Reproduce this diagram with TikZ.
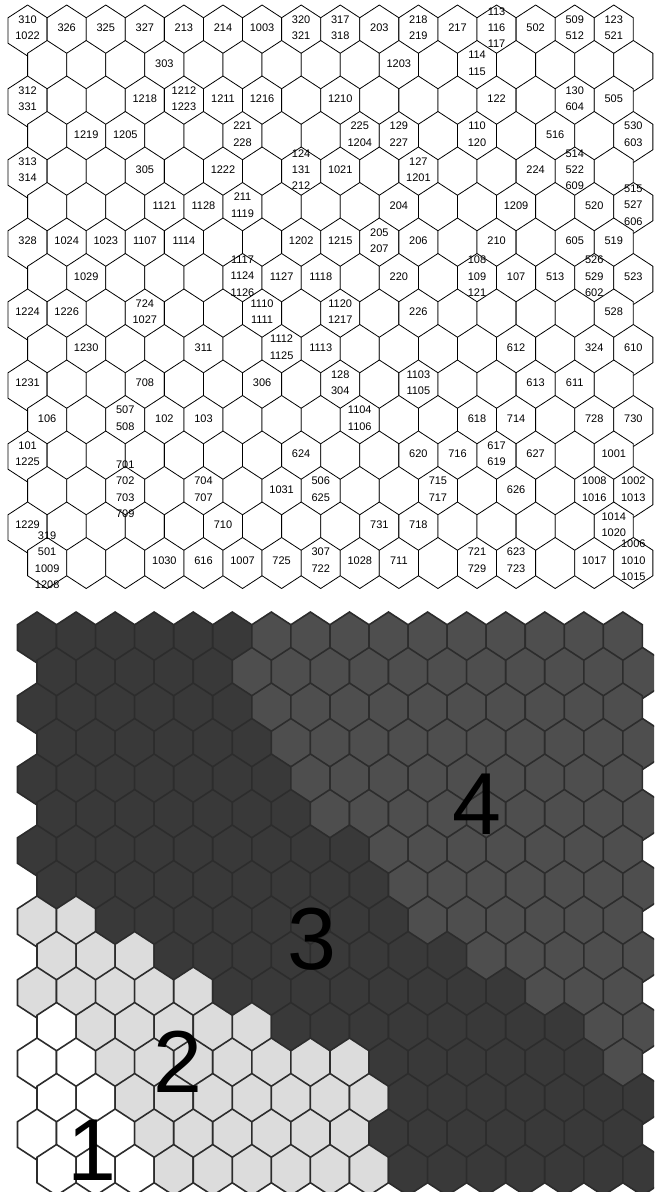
\documentclass[tikz,border=0pt]{standalone}
\usepackage{fontspec}
\setmainfont{Liberation Sans}
\usepackage{tikz}
\usepackage{xcolor}
\usetikzlibrary{positioning, calc}

\definecolor{clA}{HTML}{FFFFFF}
\definecolor{clB}{HTML}{DCDCDC}
\definecolor{clC}{HTML}{393939}
\definecolor{clD}{HTML}{4E4E4E}
\definecolor{rim}{HTML}{2C2C2C}

% one hit label in the upper map: row, column, text
\newcommand\hit[3]{%
  \pgfmathsetmacro\hx{27.6+39.08*#2+19.54*mod(#1,2)}%
  \pgfmathsetmacro\hy{27.75+35.5*#1}%
  \node[cell] (hit-#1-#2) at (\hx,\hy) {#3};}

\begin{document}
\begin{tikzpicture}[
  x=1pt, y=-1pt,
  hexline/.style={draw=black, line width=0.8pt, fill=white},
  hexfill/.style={draw=rim, line width=1.6pt},
  cell/.style={align=center, inner sep=0pt, font=\fontsize{11}{16.3}\selectfont},
  bignum/.style={inner sep=0pt, font=\fontsize{88}{88}\selectfont}
]
\useasboundingbox (0,0) rectangle (654,1192);
\clip (0,0) rectangle (654,1192);

% upper map: empty hex grid
\foreach \r in {0,...,15}{
  \foreach \c in {0,...,15}{
    \pgfmathsetmacro\cx{27.6+39.08*\c+19.54*mod(\r,2)}
    \pgfmathsetmacro\cy{27.75+35.5*\r}
    \draw[hexline] (\cx,\cy-22.75) -- ++(19.54,12.75) -- ++(0,25.5) -- ++(-19.54,12.75)
      -- ++(-19.54,-12.75) -- ++(0,-25.5) -- cycle;
  }
}

% upper map: hit labels
\hit{0}{0}{310\\1022} \hit{0}{1}{326} \hit{0}{2}{325} \hit{0}{3}{327} \hit{0}{4}{213}
\hit{0}{5}{214} \hit{0}{6}{1003} \hit{0}{7}{320\\321} \hit{0}{8}{317\\318} \hit{0}{9}{203}
\hit{0}{10}{218\\219} \hit{0}{11}{217} \hit{0}{12}{113\\116\\117} \hit{0}{13}{502}
\hit{0}{14}{509\\512} \hit{0}{15}{123\\521}
\hit{1}{3}{303} \hit{1}{9}{1203} \hit{1}{11}{114\\115}
\hit{2}{0}{312\\331} \hit{2}{3}{1218} \hit{2}{4}{1212\\1223} \hit{2}{5}{1211} \hit{2}{6}{1216}
\hit{2}{8}{1210} \hit{2}{12}{122} \hit{2}{14}{130\\604} \hit{2}{15}{505}
\hit{3}{1}{1219} \hit{3}{2}{1205} \hit{3}{5}{221\\228} \hit{3}{8}{225\\1204} \hit{3}{9}{129\\227}
\hit{3}{11}{110\\120} \hit{3}{13}{516} \hit{3}{15}{530\\603}
\hit{4}{0}{313\\314} \hit{4}{3}{305} \hit{4}{5}{1222} \hit{4}{7}{124\\131\\212} \hit{4}{8}{1021}
\hit{4}{10}{127\\1201} \hit{4}{13}{224} \hit{4}{14}{514\\522\\609}
\hit{5}{3}{1121} \hit{5}{4}{1128} \hit{5}{5}{211\\1119} \hit{5}{9}{204} \hit{5}{12}{1209}
\hit{5}{14}{520} \hit{5}{15}{515\\527\\606}
\hit{6}{0}{328} \hit{6}{1}{1024} \hit{6}{2}{1023} \hit{6}{3}{1107} \hit{6}{4}{1114} \hit{6}{7}{1202}
\hit{6}{8}{1215} \hit{6}{9}{205\\207} \hit{6}{10}{206} \hit{6}{12}{210} \hit{6}{14}{605} \hit{6}{15}{519}
\hit{7}{1}{1029} \hit{7}{5}{1117\\1124\\1126} \hit{7}{6}{1127} \hit{7}{7}{1118} \hit{7}{9}{220}
\hit{7}{11}{108\\109\\121} \hit{7}{12}{107} \hit{7}{13}{513} \hit{7}{14}{526\\529\\602} \hit{7}{15}{523}
\hit{8}{0}{1224} \hit{8}{1}{1226} \hit{8}{3}{724\\1027} \hit{8}{6}{1110\\1111} \hit{8}{8}{1120\\1217}
\hit{8}{10}{226} \hit{8}{15}{528}
\hit{9}{1}{1230} \hit{9}{4}{311} \hit{9}{6}{1112\\1125} \hit{9}{7}{1113} \hit{9}{12}{612}
\hit{9}{14}{324} \hit{9}{15}{610}
\hit{10}{0}{1231} \hit{10}{3}{708} \hit{10}{6}{306} \hit{10}{8}{128\\304} \hit{10}{10}{1103\\1105}
\hit{10}{13}{613} \hit{10}{14}{611}
\hit{11}{0}{106} \hit{11}{2}{507\\508} \hit{11}{3}{102} \hit{11}{4}{103} \hit{11}{8}{1104\\1106}
\hit{11}{11}{618} \hit{11}{12}{714} \hit{11}{14}{728} \hit{11}{15}{730}
\hit{12}{0}{101\\1225} \hit{12}{7}{624} \hit{12}{10}{620} \hit{12}{11}{716} \hit{12}{12}{617\\619}
\hit{12}{13}{627} \hit{12}{15}{1001}
\hit{13}{2}{701\\702\\703\\709} \hit{13}{4}{704\\707} \hit{13}{6}{1031} \hit{13}{7}{506\\625}
\hit{13}{10}{715\\717} \hit{13}{12}{626} \hit{13}{14}{1008\\1016} \hit{13}{15}{1002\\1013}
\hit{14}{0}{1229} \hit{14}{5}{710} \hit{14}{9}{731} \hit{14}{10}{718} \hit{14}{15}{1014\\1020}
\hit{15}{0}{319\\501\\1009\\1208} \hit{15}{3}{1030} \hit{15}{4}{616} \hit{15}{5}{1007} \hit{15}{6}{725}
\hit{15}{7}{307\\722} \hit{15}{8}{1028} \hit{15}{9}{711} \hit{15}{11}{721\\729} \hit{15}{12}{623\\723}
\hit{15}{14}{1017} \hit{15}{15}{1006\\1010\\1015}

% lower map: per row, where white, light and dark cells end (the rest is medium)
\foreach \r/\ew/\el/\ed in {0/0/0/6, 1/0/0/5, 2/0/0/6, 3/0/0/6, 4/0/0/7, 5/0/0/7,
  6/0/0/9, 7/0/0/9, 8/0/2/10, 9/0/3/11, 10/0/5/13, 11/1/6/14, 12/2/9/15,
  13/2/9/16, 14/3/9/16, 15/3/9/16}{
  \foreach \c in {0,...,15}{
    \pgfmathsetmacro\cx{37.0+39.06*\c+19.53*mod(\r,2)}
    \pgfmathsetmacro\cy{634.75+35.5*\r}
    \ifnum\c<\ew\def\tone{clA}\else\ifnum\c<\el\def\tone{clB}\else
      \ifnum\c<\ed\def\tone{clC}\else\def\tone{clD}\fi\fi\fi
    \draw[hexfill, fill=\tone] (\cx,\cy-22.75) -- ++(19.53,12.75) -- ++(0,25.5) -- ++(-19.53,12.75)
      -- ++(-19.53,-12.75) -- ++(0,-25.5) -- cycle;
  }
}

% cluster numbers
\node[bignum] (num4) at (477,804) {4};
\node[bignum] (num3) at (312,939) {3};
\node[bignum] (num2) at (178,1062) {2};
\node[bignum] (num1) at (92,1150) {1};
\end{tikzpicture}
\end{document}
